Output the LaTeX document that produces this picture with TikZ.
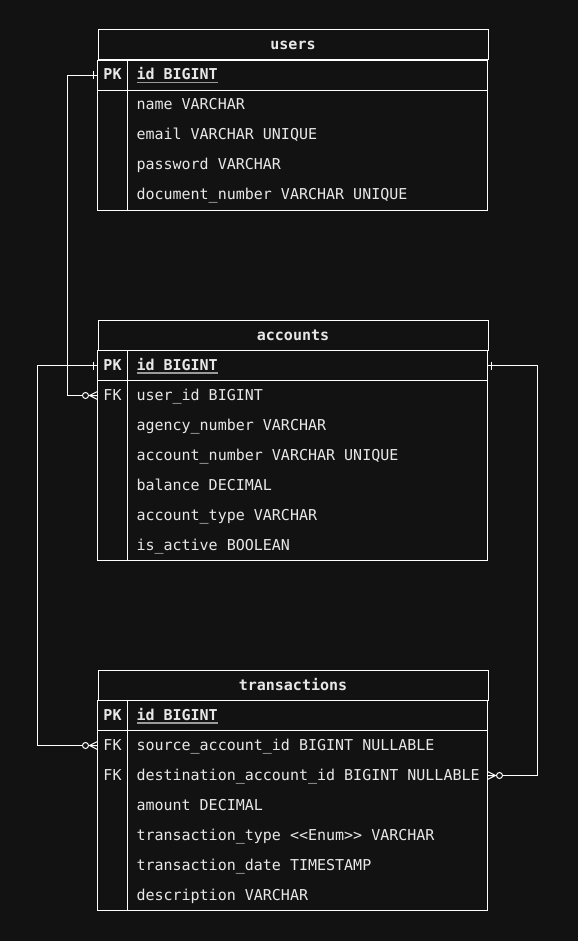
\documentclass[tikz,border=0pt]{standalone}
\usepackage{fontspec}
\setmonofont{DejaVu Sans Mono}
\usepackage{xcolor}
\usetikzlibrary{positioning}

\definecolor{bg}{HTML}{121212}
\definecolor{fg}{HTML}{E8E8E8}
\definecolor{pkline}{HTML}{9A9A9A}

\newcommand{\monospace}{\fontdimen2\font=9.03pt\fontdimen3\font=0pt\fontdimen4\font=0pt\spaceskip=9.03pt\xspaceskip=9.03pt\relax}
\newcommand{\erfont}{\ttfamily\fontsize{15}{18}\selectfont\monospace}
\newcommand{\erbold}{\bfseries\monospace}
\newcommand{\pkname}[1]{\setbox0=\hbox{\erbold #1}\rlap{\textcolor{pkline}{\rule[-3.5pt]{\wd0}{1.5pt}}}\box0}

\begin{document}
\begin{tikzpicture}[x=1pt, y=-1pt, line width=1pt, node distance=0pt]
        \tikzstyle{table} = [rectangle, draw=white, minimum width=390pt, minimum height=30pt, inner sep=0pt, text=fg, font=\erfont\erbold]
        \tikzstyle{key} = [rectangle, minimum width=30pt, minimum height=30pt, inner sep=0pt, outer sep=0pt, text height=10pt, text depth=1pt, text=fg, font=\erfont]
        \tikzstyle{field} = [rectangle, text width=360pt, align=left, inner xsep=0pt, inner ysep=0pt, outer sep=0pt, minimum height=30pt, text height=10pt, text depth=1pt, text=fg, font=\erfont, execute at begin node=\monospace\hspace*{9pt}]
        \tikzstyle{frame} = [draw=white]
        \tikzstyle{rel} = [draw=white]
        \tikzset{
            onebar/.pic={\draw[white] (-4,-4) -- (-4,4);},
            zeromany/.pic={\draw[white] (-8,0) -- (0,-4) (-8,0) -- (0,0) (-8,0) -- (0,4);
                           \draw[white, fill=bg] (-12,0) circle (3);}
        }

        \fill[bg] (0,0) rectangle (578,941);
        \useasboundingbox (0,0) rectangle (578,941);

        % users
        \node [table] (users) at (293,45) {users};
        \node [key, anchor=north west] (users-pk) at (users.south west) {\erbold PK};
        \node [field, right=of users-pk] (users-id) {\pkname{id BIGINT}};
        \node [field, below=of users-id] (users-name) {name VARCHAR};
        \node [field, below=of users-name] (users-email) {email VARCHAR UNIQUE};
        \node [field, below=of users-email] (users-pass) {password VARCHAR};
        \node [field, below=of users-pass] (users-doc) {document\_number VARCHAR UNIQUE};

        % accounts
        \node [table] (accounts) at (293,335) {accounts};
        \node [key, anchor=north west] (accounts-pk) at (accounts.south west) {\erbold PK};
        \node [field, right=of accounts-pk] (accounts-id) {\pkname{id BIGINT}};
        \node [field, below=of accounts-id] (accounts-user) {user\_id BIGINT};
        \node [key, left=of accounts-user] (accounts-fk) {FK};
        \node [field, below=of accounts-user] (accounts-agency) {agency\_number VARCHAR};
        \node [field, below=of accounts-agency] (accounts-number) {account\_number VARCHAR UNIQUE};
        \node [field, below=of accounts-number] (accounts-balance) {balance DECIMAL};
        \node [field, below=of accounts-balance] (accounts-type) {account\_type VARCHAR};
        \node [field, below=of accounts-type] (accounts-active) {is\_active BOOLEAN};

        % transactions
        \node [table] (transactions) at (293,685) {transactions};
        \node [key, anchor=north west] (trans-pk) at (transactions.south west) {\erbold PK};
        \node [field, right=of trans-pk] (trans-id) {\pkname{id BIGINT}};
        \node [field, below=of trans-id] (trans-src) {source\_account\_id BIGINT NULLABLE};
        \node [key, left=of trans-src] (trans-srcfk) {FK};
        \node [field, below=of trans-src] (trans-dst) {destination\_account\_id BIGINT NULLABLE};
        \node [key, left=of trans-dst] (trans-dstfk) {FK};
        \node [field, below=of trans-dst] (trans-amount) {amount DECIMAL};
        \node [field, below=of trans-amount] (trans-type) {transaction\_type <<Enum>> VARCHAR};
        \node [field, below=of trans-type] (trans-date) {transaction\_date TIMESTAMP};
        \node [field, below=of trans-date] (trans-desc) {description VARCHAR};

        % table frames
        \draw [frame] (users-pk.north west) rectangle (users-doc.south east);
        \draw [frame] (users-pk.south west) -- (users-id.south east);
        \draw [frame] (users-pk.north east) -- (users-pk.north east |- users-doc.south);
        \draw [frame] (accounts-pk.north west) rectangle (accounts-active.south east);
        \draw [frame] (accounts-pk.south west) -- (accounts-id.south east);
        \draw [frame] (accounts-pk.north east) -- (accounts-pk.north east |- accounts-active.south);
        \draw [frame] (trans-pk.north west) rectangle (trans-desc.south east);
        \draw [frame] (trans-pk.south west) -- (trans-id.south east);
        \draw [frame] (trans-pk.north east) -- (trans-pk.north east |- trans-desc.south);

        % relations
        \path [rel] (users-pk.west) -- ++(-30,0) |- (accounts-fk.west);
        \path [rel] (accounts-pk.west) -- ++(-60,0) |- (trans-srcfk.west);
        \path [rel] (accounts-id.east) -- ++(50,0) |- (trans-dst.east);

        \pic at (users-pk.west) {onebar};
        \pic at (accounts-fk.west) {zeromany};
        \pic at (accounts-pk.west) {onebar};
        \pic at (trans-srcfk.west) {zeromany};
        \pic [xscale=-1] at (accounts-id.east) {onebar};
        \pic [xscale=-1] at (trans-dst.east) {zeromany};
    \end{tikzpicture}
\end{document}
